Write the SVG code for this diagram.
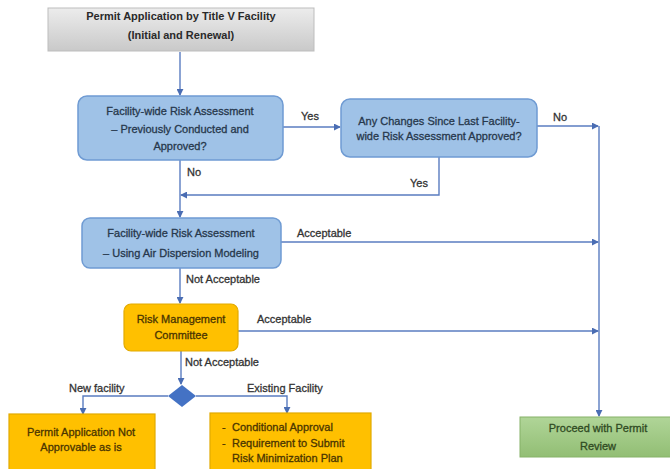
<svg xmlns="http://www.w3.org/2000/svg" width="670" height="469" viewBox="0 0 670 469">
<defs>
<linearGradient id="gGray" x1="0" y1="0" x2="0" y2="1"><stop offset="0" stop-color="#ececec"/><stop offset="1" stop-color="#c9c9c9"/></linearGradient>
<linearGradient id="gGreen" x1="0" y1="0" x2="0" y2="1"><stop offset="0" stop-color="#b0d598"/><stop offset="1" stop-color="#92be74"/></linearGradient>
<marker id="arr" viewBox="0 0 8 8" refX="7" refY="4" markerWidth="7" markerHeight="7" markerUnits="userSpaceOnUse" orient="auto"><path d="M0,0 L8,4 L0,8 z" fill="#4a6db3"/></marker>
<style>
text{font-family:"Liberation Sans",Arial,sans-serif;font-size:11px;text-anchor:middle;stroke-width:0.3}
.blue{fill:#9fc2e7;stroke:#6f9bd3;stroke-width:1.5}
.orange{fill:#ffc000;stroke:#e2aa00;stroke-width:1.2}
.tb{fill:#27384c;stroke:#27384c}
.to{fill:#4a3500;stroke:#4a3500}
.tg{fill:#2f4a22;stroke:#2f4a22}
.lbl{fill:#333;stroke:#333;text-anchor:start}
.c{fill:none;stroke:#5a7cc0;stroke-width:1.4}
</style>
</defs>
<g id="connectors">
<path class="c" d="M180 52 V95" marker-end="url(#arr)"/>
<path class="c" d="M283 127 H340" marker-end="url(#arr)"/>
<path class="c" d="M537 126 H598" marker-end="url(#arr)"/>
<path class="c" d="M599 126 V416" marker-end="url(#arr)"/>
<path class="c" d="M180 160 V217" marker-end="url(#arr)"/>
<path class="c" d="M439 157 V195 H181" marker-end="url(#arr)"/>
<path class="c" d="M281 242 H598" marker-end="url(#arr)"/>
<path class="c" d="M180 268 V303" marker-end="url(#arr)"/>
<path class="c" d="M238 331 H598" marker-end="url(#arr)"/>
<path class="c" d="M181 351 V384" marker-end="url(#arr)"/>
<path class="c" d="M168 396 H83 V414" marker-end="url(#arr)"/>
<path class="c" d="M196 396 H287 V413" marker-end="url(#arr)"/>
<text class="lbl" x="301" y="120">Yes</text>
<text class="lbl" x="553" y="121">No</text>
<text class="lbl" x="187" y="176">No</text>
<text class="lbl" x="410" y="187">Yes</text>
<text class="lbl" x="297" y="237">Acceptable</text>
<text class="lbl" x="186" y="283">Not Acceptable</text>
<text class="lbl" x="257" y="323">Acceptable</text>
<text class="lbl" x="185" y="366">Not Acceptable</text>
<text class="lbl" x="69" y="392">New facility</text>
<text class="lbl" x="247" y="392">Existing Facility</text>
</g>
<g id="start">
<rect x="48" y="8" width="266" height="43" fill="url(#gGray)" stroke="#bdbdbd" stroke-width="1"/>
<text x="181" y="20" font-weight="bold" font-size="10.5" fill="#2a2a2a">Permit Application by Title V Facility</text>
<text x="181" y="39" font-weight="bold" font-size="10.5" fill="#2a2a2a">(Initial and Renewal)</text>
</g>
<g id="prev-assessment">
<rect class="blue" x="78" y="96" width="205" height="64" rx="9"/>
<text class="tb" x="180" y="115">Facility-wide Risk Assessment</text>
<text class="tb" x="180" y="133">– Previously Conducted and</text>
<text class="tb" x="180" y="150">Approved?</text>
</g>
<g id="any-changes">
<rect class="blue" x="341" y="99" width="196" height="58" rx="9"/>
<text class="tb" x="439" y="125">Any Changes Since Last Facility-</text>
<text class="tb" x="439" y="140">wide Risk Assessment Approved?</text>
</g>
<g id="air-dispersion">
<rect class="blue" x="82" y="218" width="199" height="50" rx="8"/>
<text class="tb" x="181" y="237">Facility-wide Risk Assessment</text>
<text class="tb" x="181" y="257">– Using Air Dispersion Modeling</text>
</g>
<g id="risk-committee">
<rect class="orange" x="124" y="304" width="114" height="47" rx="7"/>
<text class="to" x="181" y="323">Risk Management</text>
<text class="to" x="181" y="339">Committee</text>
</g>
<g id="decision">
<polygon points="182,385 196,396 182,407 168,396" fill="#4472c4"/>
</g>
<g id="not-approvable">
<rect class="orange" x="9" y="414" width="146" height="60"/>
<text class="to" x="81" y="436">Permit Application Not</text>
<text class="to" x="81" y="451">Approvable as is</text>
</g>
<g id="conditional">
<rect class="orange" x="210" y="413" width="161" height="60"/>
<text class="to" x="222" y="431" style="text-anchor:start">-</text>
<text class="to" x="232" y="431" style="text-anchor:start">Conditional Approval</text>
<text class="to" x="222" y="447" style="text-anchor:start">-</text>
<text class="to" x="232" y="447" style="text-anchor:start">Requirement to Submit</text>
<text class="to" x="232" y="462" style="text-anchor:start">Risk Minimization Plan</text>
</g>
<g id="proceed">
<rect x="520" y="417" width="152" height="40" fill="url(#gGreen)" stroke="#86b268" stroke-width="1"/>
<text class="tg" x="598" y="432">Proceed with Permit</text>
<text class="tg" x="598" y="450">Review</text>
</g>
</svg>
